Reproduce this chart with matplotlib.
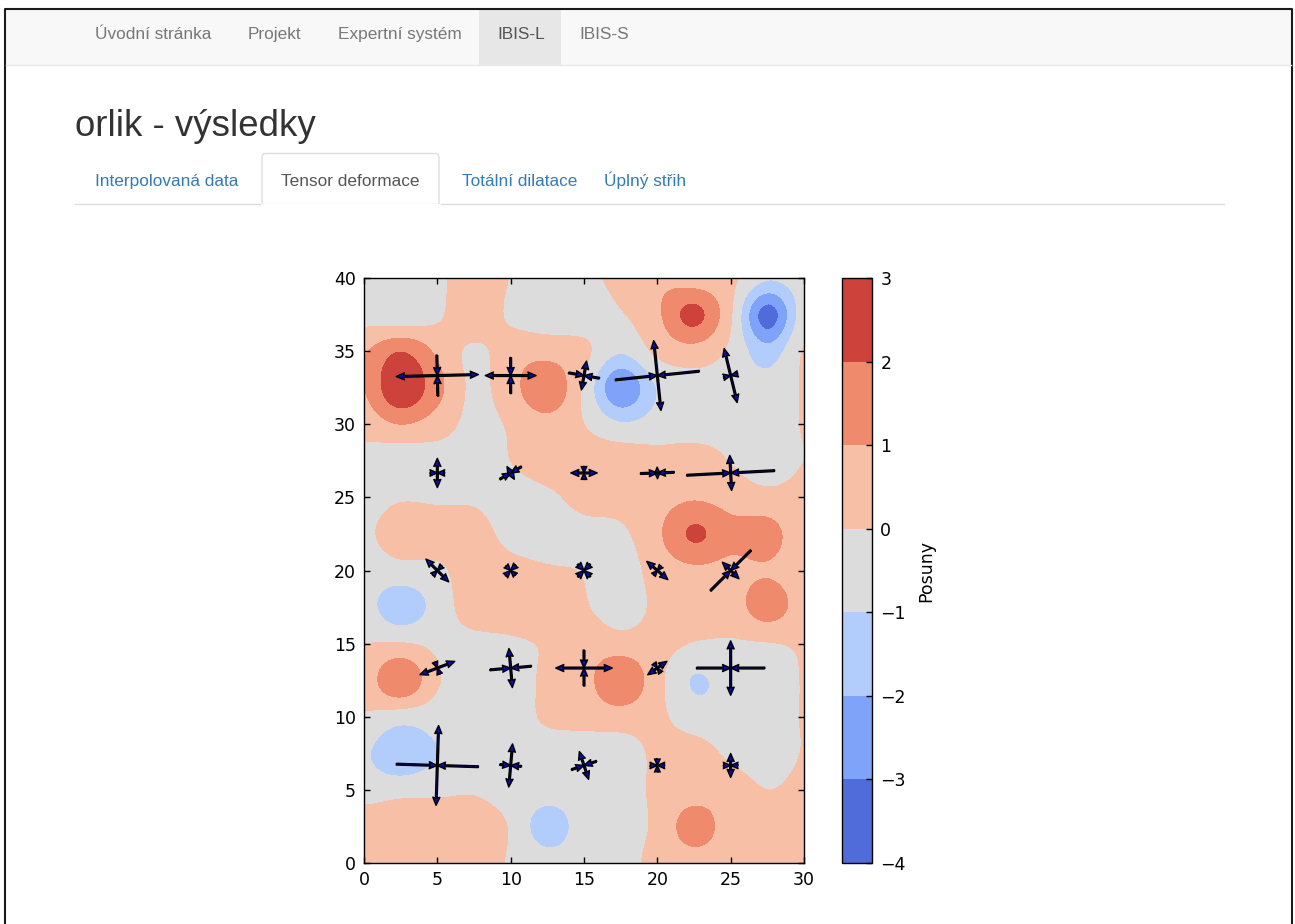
import numpy as np
import matplotlib
matplotlib.use("Agg")
import matplotlib.pyplot as plt
from matplotlib.patches import Rectangle, FancyBboxPatch

# ---------------- data ----------------
grid_x = [0, 2.5, 5, 7.5, 10, 12.5, 15, 17.5, 20, 22.5, 25, 27.5, 30]
grid_y = [0, 2.5, 5, 7.5, 10, 12.5, 15, 17.5, 20, 22.5, 25, 27.5, 30, 32.5, 35, 37.5, 40]
# displacement values ("Posuny") read on a 2.5 x 2.5 grid, rows from y=0 to y=40
posuny = [
    [0.3, 0.6, 0.6, 0.5, -0.1, -0.5, -0.5, -0.4, 0.3, 0.5, 0.5, 0.5, 0.4],
    [0.5, 0.6, 0.6, 0.5, -0.1, -1.6, -0.5, -0.4, 0.2, 1.5, 0.5, 0.5, 0.5],
    [-0.4, -0.3, -0.2, -0.1, -0.4, -0.5, -0.5, -0.5, 0.2, 0.5, 0.5, 0.0, 0.3],
    [-0.85, -1.95, -1.05, -0.6, -0.5, -0.5, -0.5, -0.5, 0.2, 0.4, -0.2, -0.6, 0.05],
    [-0.1, -0.55, -0.5, -0.5, -0.5, 0.15, 0.3, 0.5, 0.2, -0.5, -0.6, -0.5, 0.05],
    [0.4, 1.9, 0.1, -0.5, -0.5, 0.2, 0.6, 1.9, 0.3, -1.08, -0.6, -0.6, 0.05],
    [0.0, 0.05, -0.2, -0.3, -0.15, 0.1, 0.5, 0.4, 0.3, -0.05, -0.1, -0.05, 0.1],
    [-0.6, -1.7, -0.6, 0.5, 0.5, 0.5, 0.1, -0.5, 0.2, 0.5, 0.5, 1.5, 0.5],
    [-0.5, -0.35, -0.2, 0.5, 0.3, 0.1, -0.05, -0.5, 0.4, 0.8, 0.7, 0.9, 0.4],
    [-0.2, 0.5, 0.5, 0.4, -0.3, -0.5, -0.3, -0.2, 0.8, 2.15, 1.3, 1.4, 0.3],
    [-0.4, -0.1, -0.15, -0.15, -0.4, -0.2, 0.3, 0.4, 0.6, 0.9, 0.6, 0.3, 0.3],
    [-0.4, -0.7, -0.5, -0.5, 0.0, 0.5, 0.5, 0.6, 0.4, 0.5, -0.05, -0.6, 0.0],
    [0.4, 1.0, 0.5, -0.3, 0.1, 0.62, 0.0, -0.9, -0.6, -0.5, -0.4, -0.6, 0.05],
    [1.0, 2.9, 1.3, -0.2, 0.6, 1.8, -0.2, -2.95, -0.95, -0.5, -0.5, -0.6, 0.05],
    [0.9, 1.95, 0.8, -0.2, 0.5, 0.6, 0.2, -0.9, 0.2, 0.6, -0.2, -1.6, 0.05],
    [-0.4, -0.75, -0.2, 0.8, -0.2, -0.6, -0.5, -0.1, 0.82, 2.3, 0.1, -3.5, -0.5],
    [-0.5, -0.5, -0.3, 0.8, -0.05, -0.6, -0.3, 0.3, 0.8, 0.5, 0.2, -0.9, -0.5],
]
levels = [-4, -3, -2, -1, 0, 1, 2, 3]

# strain tensor points
tensor_x = [5, 10, 15, 20, 25]
tensor_y = [33.33, 26.67, 20.0, 13.33, 6.67]
# angle of principal axis 1 (deg) and signed half-lengths (+ extension, - compression)
axis_angle = [
    [1.4, 0, -10, 5.9, 13.5],
    [0, 30, 0, 2, 3],
    [-45, 45, 45, -41, 45],
    [21, 5, 0, 35, 0],
    [-1.8, -5, 18.5, 0, 0],
]
axis1_len = [
    [2.8, 1.73, -1.07, -2.88, -0.5],
    [-0.5, -0.85, 0.9, -1.15, -3.0],
    [1.1, -0.5, -0.6, 0.95, -1.95],
    [1.27, -1.42, 1.93, 0.8, -2.33],
    [-2.8, -0.74, -0.9, -0.5, -0.5],
]
axis2_len = [
    [-1.4, -1.23, 1.0, 2.4, 1.9],
    [1.0, 0.5, -0.45, 0.4, 1.2],
    [-0.45, -0.45, -0.6, -0.4, 0.8],
    [-0.45, 1.34, -1.23, -0.4, 1.86],
    [2.73, 1.48, 1.0, -0.45, 0.82],
]

nav_items = ["Úvodní stránka", "Projekt", "Expertní systém", "IBIS-L", "IBIS-S"]
tab_items = ["Interpolovaná data", "Tensor deformace", "Totální dilatace", "Úplný střih"]


# ---------------- helpers ----------------
def cubic_matrix(coarse, fine):
    coarse = np.asarray(coarse, float)
    n = len(coarse)
    h = coarse[1] - coarse[0]
    t = (np.asarray(fine) - coarse[0]) / h
    W = np.zeros((len(t), n))

    def k(s):
        s = np.abs(s)
        return np.where(s <= 1, 1.5 * s**3 - 2.5 * s**2 + 1,
                        np.where(s < 2, -0.5 * s**3 + 2.5 * s**2 - 4 * s + 2, 0.0))

    base = np.floor(t).astype(int)
    for off in (-1, 0, 1, 2):
        idx = base + off
        w = k(t - idx)
        idc = np.clip(idx, 0, n - 1)
        for r in range(len(t)):
            W[r, idc[r]] += w[r]
    return W


# ---------------- figure ----------------
fig = plt.figure(figsize=(12.95, 9.24), dpi=100)
page = fig.add_axes([0, 0, 1, 1], zorder=0)
page.set_xlim(0, 1295)
page.set_ylim(924, 0)
page.axis("off")

web = "Liberation Sans"
# page frame
page.plot([5, 5, 1291.5, 1291.5], [930, 8.5, 8.5, 930], color="#1a1a1a", lw=1.5)
# navbar
page.add_patch(Rectangle((5.5, 9), 1285.5, 55.5, facecolor="#f8f8f8", edgecolor="none"))
page.plot([5.5, 1291], [64.5, 64.5], color="#e7e7e7", lw=1)
page.add_patch(Rectangle((479, 9), 82, 55.5, facecolor="#e7e7e7", edgecolor="none"))
nav_x = [95, 248, 338, 497, 579]
for t, x in zip(nav_items, nav_x):
    page.text(x, 39, t, fontsize=12.4, color="#555" if t == "IBIS-L" else "#777",
              family=web, va="baseline", ha="left")
# title
page.text(75, 136, "orlik - výsledky", fontsize=26.4, color="#333", family=web,
          va="baseline", ha="left")
# tabs
page.plot([75, 1224], [203.5, 203.5], color="#dddddd", lw=1)
page.add_patch(FancyBboxPatch((262, 153.5), 177, 58, boxstyle="round,pad=0,rounding_size=4",
                              facecolor="white", edgecolor="#dddddd", lw=1))
page.add_patch(Rectangle((261, 204.2), 179.5, 12, facecolor="white", edgecolor="none", zorder=3))
tab_x = [95, 281, 462, 604]
for t, x in zip(tab_items, tab_x):
    page.text(x, 186, t, fontsize=12.4, color="#555" if t == "Tensor deformace" else "#337ab7",
              family=web, va="baseline", ha="left")

# main plot
W, H = 1295.0, 924.0
ax = fig.add_axes([364 / W, 1 - 863 / H, 440 / W, 585 / H], zorder=2)
xf = np.linspace(0, 30, 361)
yf = np.linspace(0, 40, 481)
Z = cubic_matrix(grid_y, yf) @ np.array(posuny) @ cubic_matrix(grid_x, xf).T
Z = np.clip(Z, -3.99, 2.99)
cs = ax.contourf(xf, yf, Z, levels=levels, cmap="coolwarm")

qx, qy, qu, qv = [], [], [], []
for i, yy in enumerate(tensor_y):
    for j, xx in enumerate(tensor_x):
        a = np.deg2rad(axis_angle[i][j])
        for L, ang in ((axis1_len[i][j], a), (axis2_len[i][j], a + np.pi / 2)):
            ex, ey = np.cos(ang), np.sin(ang)
            for s in (1, -1):
                if L > 0:
                    qx.append(xx); qy.append(yy)
                    qu.append(s * L * ex); qv.append(s * L * ey)
                else:
                    m = -L
                    qx.append(xx + s * m * ex); qy.append(yy + s * m * ey)
                    qu.append(-s * m * ex); qv.append(-s * m * ey)
ax.quiver(qx, qy, qu, qv, angles="xy", scale_units="xy", scale=1, units="xy",
          width=0.12, headwidth=4, headlength=4.6, headaxislength=4.2,
          facecolor="#0b0ba8", edgecolor="black", linewidth=1, zorder=3)

ax.set_xlim(0, 30)
ax.set_ylim(0, 40)
ax.set_xticks(range(0, 31, 5))
ax.set_yticks(range(0, 41, 5))
ax.tick_params(direction="in", top=True, right=True, length=4, width=1,
               labelsize=12.5, pad=6)
for sp in ax.spines.values():
    sp.set_linewidth(1.0)

cax = fig.add_axes([842 / W, 1 - 863 / H, 30 / W, 585 / H], zorder=2)
cb = fig.colorbar(cs, cax=cax, ticks=levels)
cb.ax.tick_params(direction="in", length=4, width=1, labelsize=12.5, pad=6)
cb.outline.set_linewidth(1.0)
cb.set_label("Posuny", fontsize=12.5, labelpad=8)

fig.savefig("out.png", dpi=100)
